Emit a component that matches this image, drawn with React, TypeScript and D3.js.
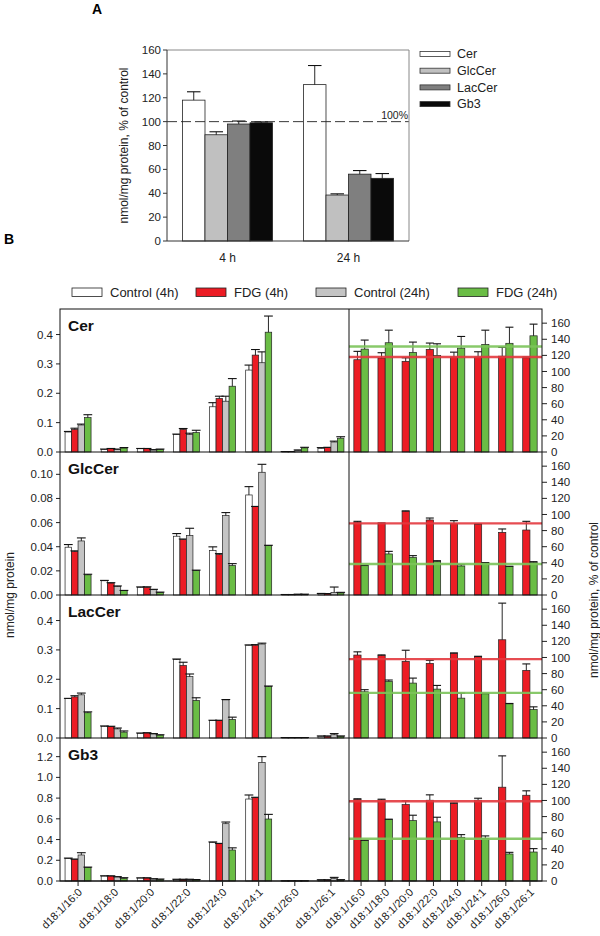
import React from "react";
import * as d3 from "d3";

const FONT = '"Liberation Sans", Arial, Helvetica, sans-serif';

// ---------- Panel A data ----------
const timepoints = ["4 h", "24 h"];
const lipidClasses = ["Cer", "GlcCer", "LacCer", "Gb3"];
const pctMean4h = [118, 89, 98, 99];
const pctErr4h = [7, 2.5, 2.5, 0.8];
const pctMean24h = [131, 38.5, 56, 52.5];
const pctErr24h = [16, 1, 3, 4];
const panelATicks = [0, 20, 40, 60, 80, 100, 120, 140, 160];

// ---------- Panel B data ----------
const species = [
  "d18:1/16:0", "d18:1/18:0", "d18:1/20:0", "d18:1/22:0",
  "d18:1/24:0", "d18:1/24:1", "d18:1/26:0", "d18:1/26:1",
];
const groups = ["Control (4h)", "FDG (4h)", "Control (24h)", "FDG (24h)"];
const fdgGroups = ["FDG (4h)", "FDG (24h)"];

// Cer, nmol/mg protein
const cerCtrl4 = [0.068, 0.009, 0.011, 0.060, 0.154, 0.279, 0.001, 0.0125];
const cerCtrl4Err = [0.002, 0.001, 0.001, 0.001, 0.014, 0.017, 0.0005, 0.0025];
const cerFdg4 = [0.077, 0.011, 0.011, 0.077, 0.182, 0.330, 0.001, 0.015];
const cerFdg4Err = [0.004, 0.001, 0.001, 0.003, 0.008, 0.019, 0.0005, 0.001];
const cerCtrl24 = [0.092, 0.009, 0.007, 0.060, 0.173, 0.304, 0.006, 0.034];
const cerCtrl24Err = [0.003, 0.001, 0.001, 0.004, 0.017, 0.037, 0.001, 0.003];
const cerFdg24 = [0.117, 0.0136, 0.009, 0.066, 0.224, 0.408, 0.014, 0.047];
const cerFdg24Err = [0.010, 0.0015, 0.001, 0.008, 0.026, 0.055, 0.002, 0.005];

// GlcCer
const glcCtrl4 = [0.0396, 0.0118, 0.0064, 0.0487, 0.0368, 0.0829, 0.0002, 0.001];
const glcCtrl4Err = [0.0022, 0.0003, 0.0003, 0.0022, 0.0031, 0.0069, 0.0002, 0.0003];
const glcFdg4 = [0.036, 0.0099, 0.0064, 0.0459, 0.0335, 0.0732, 0.0002, 0.001];
const glcFdg4Err = [0.0006, 0.0003, 0.0004, 0.0005, 0.0008, 0.0002, 0.0002, 0.0002];
const glcCtrl24 = [0.0448, 0.0072, 0.0044, 0.0492, 0.0658, 0.1017, 0.0005, 0.0022];
const glcCtrl24Err = [0.0025, 0.0003, 0.0003, 0.0061, 0.0025, 0.0066, 0.0002, 0.0044];
const glcFdg24 = [0.0167, 0.0036, 0.0022, 0.0203, 0.0244, 0.041, 0.0005, 0.0017];
const glcFdg24Err = [0.0005, 0.0002, 0.0002, 0.0003, 0.0016, 0.0002, 0.0002, 0.0005];

// LacCer
const lacCtrl4 = [0.134, 0.040, 0.016, 0.267, 0.0595, 0.316, 0.001, 0.006];
const lacCtrl4Err = [0.001, 0.001, 0.001, 0.002, 0.001, 0.001, 0.0005, 0.001];
const lacFdg4 = [0.140, 0.039, 0.017, 0.247, 0.0595, 0.316, 0.001, 0.006];
const lacFdg4Err = [0.004, 0.001, 0.001, 0.011, 0.001, 0.002, 0.0005, 0.001];
const lacCtrl24 = [0.147, 0.031, 0.014, 0.209, 0.130, 0.320, 0.001, 0.011];
const lacCtrl24Err = [0.006, 0.003, 0.001, 0.009, 0.001, 0.003, 0.0005, 0.004];
const lacFdg24 = [0.086, 0.020, 0.010, 0.128, 0.063, 0.175, 0.001, 0.006];
const lacFdg24Err = [0.003, 0.004, 0.001, 0.009, 0.008, 0.002, 0.0005, 0.001];

// Gb3
const gb3Ctrl4 = [0.219, 0.048, 0.029, 0.016, 0.373, 0.791, 0.001, 0.010];
const gb3Ctrl4Err = [0.002, 0.002, 0.001, 0.001, 0.004, 0.039, 0.0005, 0.002];
const gb3Fdg4 = [0.209, 0.048, 0.029, 0.016, 0.360, 0.804, 0.001, 0.010];
const gb3Fdg4Err = [0.003, 0.002, 0.002, 0.001, 0.003, 0.004, 0.0005, 0.002];
const gb3Ctrl24 = [0.251, 0.039, 0.019, 0.016, 0.553, 1.145, 0.001, 0.026];
const gb3Ctrl24Err = [0.022, 0.003, 0.003, 0.001, 0.016, 0.055, 0.0005, 0.009];
const gb3Fdg24 = [0.132, 0.026, 0.016, 0.013, 0.299, 0.598, 0.001, 0.010];
const gb3Fdg24Err = [0.002, 0.006, 0.003, 0.001, 0.021, 0.045, 0.0005, 0.003];

// % of control (FDG vs control)
const cerPct4 = [114.6, 116.7, 112.6, 127.4, 118, 118, 119, 117];
const cerPct4Err = [10.4, 6.6, 4.4, 7.9, 6, 6.5, 11, 1];
const cerPct24 = [127.8, 135.7, 123.7, 120, 129, 133.6, 135, 144.3];
const cerPct24Err = [11.2, 15.6, 12.8, 14.4, 14.5, 17.7, 20, 14.5];

const glcPct4 = [90.3, 89, 104, 93.2, 88.6, 87.8, 77.8, 80.7];
const glcPct4Err = [1.2, 0.5, 0.5, 2.4, 3.7, 0.5, 4.2, 10.8];
const glcPct24 = [36.4, 51, 46.8, 41.8, 36, 39.8, 35.2, 40.6];
const glcPct24Err = [0.5, 3.2, 2.1, 0.8, 1.7, 0.5, 0.5, 0.8];

const lacPct4 = [103, 102.7, 95.2, 92.7, 105.2, 101, 122, 84];
const lacPct4Err = [4, 0.5, 13.8, 3.8, 0.5, 0.5, 45.5, 8];
const lacPct24 = [57.4, 70.3, 68.2, 60.7, 49.5, 54.9, 42.4, 35.3];
const lacPct24Err = [2.6, 1.7, 6.2, 4.6, 6.2, 0.5, 0.5, 3.4];

const gb3Pct4 = [101.6, 100.7, 95, 100.3, 96.2, 100.3, 116.5, 106.5];
const gb3Pct4Err = [0.5, 0.9, 4.5, 6.7, 0.8, 2.5, 38.9, 5.5];
const gb3Pct24 = [50.2, 76.3, 75, 73.4, 54.3, 53, 33.6, 36];
const gb3Pct24Err = [0.5, 0.5, 6.7, 5.8, 3.3, 3, 2, 4.2];

const cerTicks = [0, 0.1, 0.2, 0.3, 0.4];
const glcTicks = [0, 0.02, 0.04, 0.06, 0.08, 0.1];
const lacTicks = [0, 0.1, 0.2, 0.3, 0.4];
const gb3Ticks = [0, 0.2, 0.4, 0.6, 0.8, 1.0, 1.2];
const pctTicks = [0, 20, 40, 60, 80, 100, 120, 140, 160];

// ---------- styles ----------
const A_COLORS = ["#ffffff", "#c0c0c0", "#7f7f7f", "#0a0a0a"];
const B_COLORS = ["#ffffff", "#ec1c24", "#c4c4c4", "#6abd45"];
const LINE_RED = "#e4393f";
const LINE_GREEN = "#7cc45a";

type Row = {
  name: string;
  max: number;
  ticks: number[];
  fmt: string;
  means: number[][];
  errs: number[][];
  pct: number[][];
  pctErr: number[][];
  refIndex: number;
};

const rows: Row[] = [
  { name: "Cer", max: 0.487, ticks: cerTicks, fmt: ".1f",
    means: [cerCtrl4, cerFdg4, cerCtrl24, cerFdg24],
    errs: [cerCtrl4Err, cerFdg4Err, cerCtrl24Err, cerFdg24Err],
    pct: [cerPct4, cerPct24], pctErr: [cerPct4Err, cerPct24Err], refIndex: 0 },
  { name: "GlcCer", max: 0.1185, ticks: glcTicks, fmt: ".2f",
    means: [glcCtrl4, glcFdg4, glcCtrl24, glcFdg24],
    errs: [glcCtrl4Err, glcFdg4Err, glcCtrl24Err, glcFdg24Err],
    pct: [glcPct4, glcPct24], pctErr: [glcPct4Err, glcPct24Err], refIndex: 1 },
  { name: "LacCer", max: 0.487, ticks: lacTicks, fmt: ".1f",
    means: [lacCtrl4, lacFdg4, lacCtrl24, lacFdg24],
    errs: [lacCtrl4Err, lacFdg4Err, lacCtrl24Err, lacFdg24Err],
    pct: [lacPct4, lacPct24], pctErr: [lacPct4Err, lacPct24Err], refIndex: 2 },
  { name: "Gb3", max: 1.38, ticks: gb3Ticks, fmt: ".1f",
    means: [gb3Ctrl4, gb3Fdg4, gb3Ctrl24, gb3Fdg24],
    errs: [gb3Ctrl4Err, gb3Fdg4Err, gb3Ctrl24Err, gb3Fdg24Err],
    pct: [gb3Pct4, gb3Pct24], pctErr: [gb3Pct4Err, gb3Pct24Err], refIndex: 3 },
];

function ErrBar({ x, y0, y1, cap }: { x: number; y0: number; y1: number; cap: number }) {
  return (
    <g stroke="#111" strokeWidth={0.9}>
      <line x1={x} x2={x} y1={y0} y2={y1} />
      <line x1={x - cap / 2} x2={x + cap / 2} y1={y1} y2={y1} strokeWidth={1.1} />
    </g>
  );
}

function PanelA() {
  const L = 167, R = 409, T = 50, B = 241;
  const x0 = d3.scaleBand<string>().domain(timepoints).range([L, R]).paddingInner(0.256).paddingOuter(0.128);
  const x1 = d3.scaleBand<string>().domain(lipidClasses).range([0, x0.bandwidth()]);
  const y = d3.scaleLinear().domain([0, 160]).range([B, T]);
  const means = [pctMean4h, pctMean24h];
  const errs = [pctErr4h, pctErr24h];
  return (
    <g>
      <text x={92} y={14} fontSize={14} fontWeight="bold">A</text>
      {timepoints.map((tp, ti) =>
        lipidClasses.map((lc, li) => {
          const bx = (x0(tp) as number) + (x1(lc) as number);
          const w = x1.bandwidth();
          const v = means[ti][li];
          const e = errs[ti][li];
          return (
            <g key={tp + lc}>
              <rect x={bx} y={y(v)} width={w} height={B - y(v)} fill={A_COLORS[li]} stroke="#222" strokeWidth={0.8} />
              <ErrBar x={bx + w / 2} y0={y(v)} y1={y(v + e)} cap={w * 0.6} />
            </g>
          );
        })
      )}
      <line x1={L} x2={R} y1={y(100)} y2={y(100)} stroke="#222" strokeWidth={0.9} strokeDasharray="10,4" />
      <text x={R - 1} y={y(100) - 3} fontSize={10.5} textAnchor="end" fill="#222">100%</text>
      {/* frame */}
      <line x1={L} x2={R} y1={T} y2={T} stroke="#888" strokeWidth={1} />
      <line x1={R} x2={R} y1={T} y2={B} stroke="#888" strokeWidth={1} />
      <line x1={L} x2={L} y1={T} y2={B} stroke="#333" strokeWidth={1} />
      <line x1={L} x2={R} y1={B} y2={B} stroke="#333" strokeWidth={1} />
      {panelATicks.map((t) => (
        <g key={t}>
          <line x1={L - 4} x2={L} y1={y(t)} y2={y(t)} stroke="#333" />
          <text x={L - 6} y={y(t)} dy="0.35em" fontSize={11.5} textAnchor="end" fill="#222">{t}</text>
        </g>
      ))}
      {timepoints.map((tp) => (
        <text key={tp} x={(x0(tp) as number) + x0.bandwidth() / 2} y={262} fontSize={12} textAnchor="middle" fill="#222">{tp}</text>
      ))}
      <text transform={`translate(124,${(T + B) / 2}) rotate(-90)`} fontSize={12} textAnchor="middle" dominantBaseline="central" fill="#222">
        nmol/mg protein, % of control
      </text>
      {lipidClasses.map((lc, i) => {
        const cy = 54 + i * 16.7;
        return (
          <g key={lc}>
            <rect x={420} y={cy - 2.5} width={30} height={5} fill={A_COLORS[i]} stroke="#333" strokeWidth={0.8} />
            <text x={457} y={cy} dy="0.35em" fontSize={12.5} fill="#222">{lc}</text>
          </g>
        );
      })}
    </g>
  );
}

function PanelB() {
  const LL = 60, MID = 349, RR = 542;
  const TOP = 309, ROWH = 143;
  const BOTTOM = TOP + ROWH * rows.length;
  const x0 = d3.scaleBand<string>().domain(species).range([LL, MID]).paddingInner(0.28).paddingOuter(0.14);
  const x1 = d3.scaleBand<string>().domain(groups).range([0, x0.bandwidth()]);
  const xr0 = d3.scaleBand<string>().domain(species).range([MID, RR]).paddingInner(0.4).paddingOuter(0.2);
  const xr1 = d3.scaleBand<string>().domain(fdgGroups).range([0, xr0.bandwidth()]);
  const legendX = [72, 196, 316, 458];
  const refs4 = pctMean4h;
  const refs24 = pctMean24h;

  return (
    <g>
      <text x={4} y={244} fontSize={14} fontWeight="bold">B</text>
      {groups.map((g, i) => (
        <g key={g}>
          <rect x={legendX[i]} y={288} width={30} height={8.5} fill={B_COLORS[i]} stroke="#222" strokeWidth={0.8} />
          <text x={legendX[i] + 38} y={292.3} dy="0.35em" fontSize={13} fill="#222">{g}</text>
        </g>
      ))}
      {rows.map((row, ri) => {
        const top = TOP + ri * ROWH;
        const bot = top + ROWH;
        const y = d3.scaleLinear().domain([0, row.max]).range([bot, top]);
        const yr = d3.scaleLinear().domain([0, 177.6]).range([bot, top]);
        const fmt = d3.format(row.fmt);
        return (
          <g key={row.name}>
            {/* left bars */}
            {species.map((sp, si) =>
              groups.map((g, gi) => {
                const bx = (x0(sp) as number) + (x1(g) as number);
                const w = x1.bandwidth();
                const v = row.means[gi][si];
                const e = row.errs[gi][si];
                return (
                  <g key={sp + g}>
                    <rect x={bx} y={y(v)} width={w} height={bot - y(v)} fill={B_COLORS[gi]} stroke="#222" strokeWidth={0.7} />
                    <ErrBar x={bx + w / 2} y0={y(v)} y1={y(v + e)} cap={w * 1.35} />
                  </g>
                );
              })
            )}
            {/* right bars */}
            {species.map((sp, si) =>
              fdgGroups.map((g, gi) => {
                const bx = (xr0(sp) as number) + (xr1(g) as number);
                const w = xr1.bandwidth();
                const v = row.pct[gi][si];
                const e = row.pctErr[gi][si];
                return (
                  <g key={sp + g}>
                    <rect x={bx} y={yr(v)} width={w} height={bot - yr(v)} fill={gi === 0 ? B_COLORS[1] : B_COLORS[3]} stroke="#222" strokeWidth={0.7} />
                    <ErrBar x={bx + w / 2} y0={yr(v)} y1={yr(v + e)} cap={w * 1.1} />
                  </g>
                );
              })
            )}
            <line x1={MID} x2={RR} y1={yr(refs4[row.refIndex])} y2={yr(refs4[row.refIndex])} stroke={LINE_RED} strokeWidth={2.4} opacity={0.9} />
            <line x1={MID} x2={RR} y1={yr(refs24[row.refIndex])} y2={yr(refs24[row.refIndex])} stroke={LINE_GREEN} strokeWidth={2.4} opacity={0.9} />
            {/* left ticks */}
            {row.ticks.map((t) => (
              <g key={"l" + t}>
                <line x1={LL - 4} x2={LL} y1={y(t)} y2={y(t)} stroke="#222" />
                <text x={LL - 7} y={y(t)} dy="0.35em" fontSize={11.5} textAnchor="end" fill="#222">{fmt(t)}</text>
              </g>
            ))}
            {/* right ticks */}
            {pctTicks.map((t) => (
              <g key={"r" + t}>
                <line x1={RR} x2={RR + 5} y1={yr(t)} y2={yr(t)} stroke="#222" />
                <text x={RR + 9} y={yr(t)} dy="0.35em" fontSize={11.5} textAnchor="start" fill="#222">{t}</text>
              </g>
            ))}
            <line x1={LL} x2={RR} y1={bot} y2={bot} stroke="#111" strokeWidth={1} />
            <text x={68} y={top + 22} fontSize={15.5} fontWeight="bold" fill="#111">{row.name}</text>
          </g>
        );
      })}
      {/* frame */}
      <rect x={LL} y={TOP} width={RR - LL} height={BOTTOM - TOP} fill="none" stroke="#111" strokeWidth={1} />
      <line x1={MID} x2={MID} y1={TOP} y2={BOTTOM} stroke="#111" strokeWidth={1} />
      {/* bottom ticks and labels */}
      {species.map((sp) => {
        const cx = (x0(sp) as number) + x0.bandwidth() / 2;
        const rx = (xr0(sp) as number) + xr0.bandwidth() / 2;
        return (
          <g key={sp}>
            <line x1={cx} x2={cx} y1={BOTTOM} y2={BOTTOM + 5} stroke="#222" />
            <line x1={rx} x2={rx} y1={BOTTOM} y2={BOTTOM + 5} stroke="#222" />
            <text transform={`translate(${cx + 2},${BOTTOM + 9}) rotate(-45)`} fontSize={11} textAnchor="end" dominantBaseline="central" fill="#222">{sp}</text>
            <text transform={`translate(${rx + 2},${BOTTOM + 9}) rotate(-45)`} fontSize={11} textAnchor="end" dominantBaseline="central" fill="#222">{sp}</text>
          </g>
        );
      })}
      <text transform={`translate(10,${(TOP + BOTTOM) / 2}) rotate(-90)`} fontSize={12} textAnchor="middle" dominantBaseline="central" fill="#222">
        nmol/mg protein
      </text>
      <text transform={`translate(594,${(TOP + BOTTOM) / 2 + 5}) rotate(-90)`} fontSize={12} textAnchor="middle" dominantBaseline="central" fill="#222">
        nmol/mg protein, % of control
      </text>
    </g>
  );
}

export default function App() {
  return (
    <svg
      width={600}
      height={936}
      viewBox="0 0 600 936"
      style={{ position: "absolute", left: 0, top: 0, background: "#fff" }}
      fontFamily={FONT}
    >
      <rect x={0} y={0} width={600} height={936} fill="#fff" />
      <PanelA />
      <PanelB />
    </svg>
  );
}
